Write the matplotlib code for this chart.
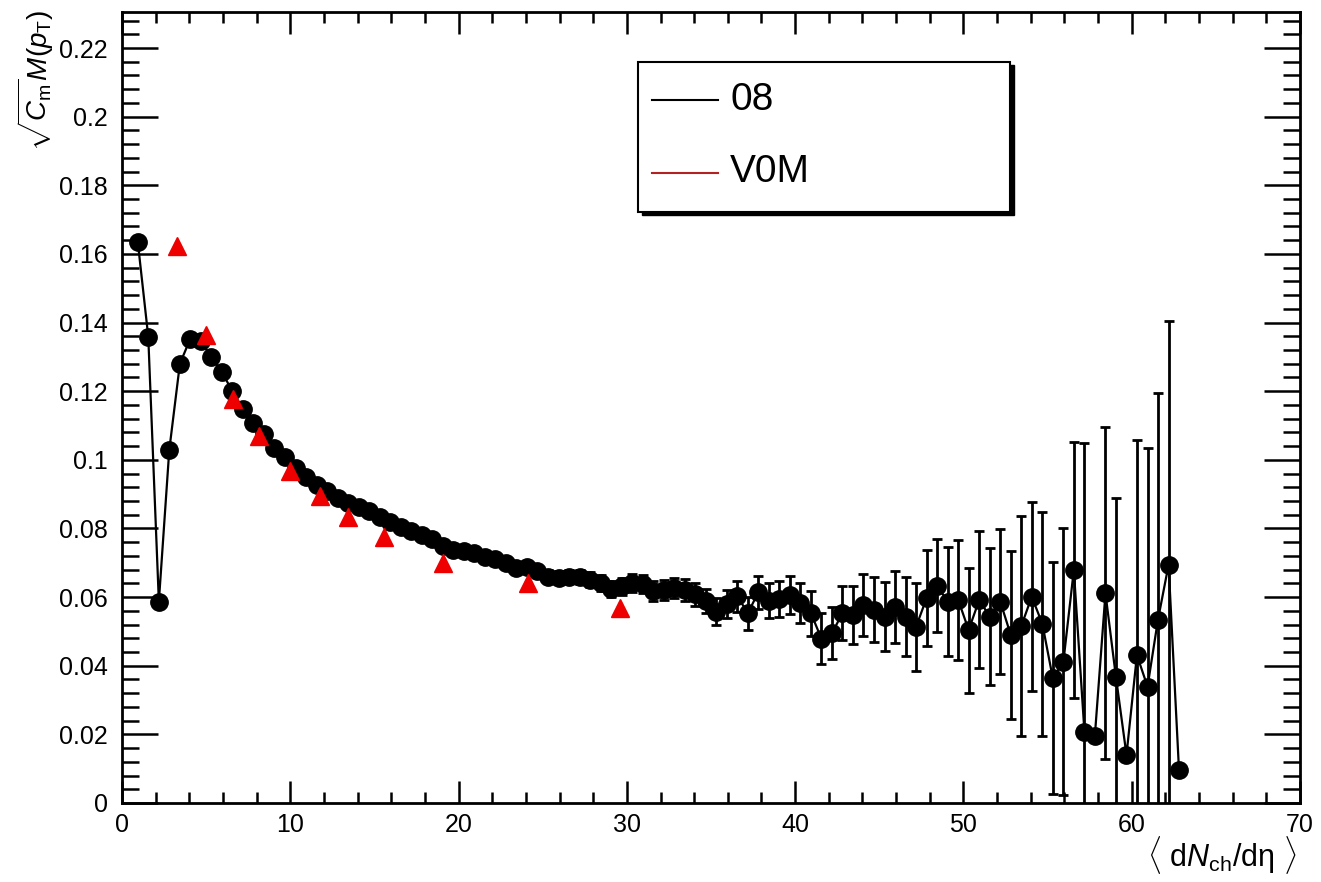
import matplotlib
matplotlib.use("Agg")
import matplotlib.pyplot as plt
from matplotlib.patches import Rectangle
from matplotlib.lines import Line2D
from matplotlib.ticker import MultipleLocator

plt.rcParams['font.family'] = ['Liberation Sans', 'DejaVu Sans']
plt.rcParams['mathtext.fontset'] = 'custom'
plt.rcParams['mathtext.rm'] = 'Liberation Sans'
plt.rcParams['mathtext.it'] = 'Liberation Sans:italic'
plt.rcParams['mathtext.bf'] = 'Liberation Sans:bold'

# "08" estimator, <dNch/deta> bins
x08 = [0.94, 1.56, 2.19, 2.81, 3.44, 4.06, 4.69, 5.31, 5.94, 6.56,
       7.19, 7.81, 8.44, 9.06, 9.69, 10.31, 10.94, 11.56, 12.19, 12.81,
       13.44, 14.06, 14.69, 15.31, 15.94, 16.56, 17.19, 17.81, 18.44, 19.06,
       19.69, 20.31, 20.94, 21.56, 22.19, 22.81, 23.44, 24.06, 24.69, 25.31,
       25.94, 26.56, 27.19, 27.81, 28.44, 29.06, 29.69, 30.31, 30.94, 31.56,
       32.19, 32.81, 33.44, 34.06, 34.69, 35.31, 35.94, 36.56, 37.19, 37.81,
       38.44, 39.06, 39.69, 40.31, 40.94, 41.56, 42.19, 42.81, 43.44, 44.06,
       44.69, 45.31, 45.94, 46.56, 47.19, 47.81, 48.44, 49.06, 49.69, 50.31,
       50.94, 51.56, 52.19, 52.81, 53.44, 54.06, 54.69, 55.31, 55.94, 56.56,
       57.19, 57.81, 58.44, 59.06, 59.69, 60.31, 60.94, 61.56, 62.19, 62.81]
y08 = [0.1634, 0.1359, 0.0587, 0.1029, 0.1280, 0.1353, 0.1345, 0.1300, 0.1255, 0.1200,
       0.1148, 0.1107, 0.1075, 0.1035, 0.1008, 0.0975, 0.0950, 0.0928, 0.0908, 0.0888,
       0.0875, 0.0862, 0.0850, 0.0832, 0.0818, 0.0805, 0.0792, 0.0780, 0.0768, 0.0750,
       0.0738, 0.0735, 0.0728, 0.0718, 0.0712, 0.0700, 0.0685, 0.0688, 0.0675, 0.0660,
       0.0657, 0.0660, 0.0658, 0.0650, 0.0640, 0.0623, 0.0632, 0.0641, 0.0638, 0.0618,
       0.0622, 0.0626, 0.0621, 0.0608, 0.0588, 0.0558, 0.0580, 0.0603, 0.0553, 0.0614,
       0.0590, 0.0594, 0.0606, 0.0582, 0.0553, 0.0479, 0.0495, 0.0553, 0.0548, 0.0577,
       0.0563, 0.0543, 0.0571, 0.0543, 0.0514, 0.0597, 0.0633, 0.0587, 0.0592, 0.0504,
       0.0592, 0.0543, 0.0587, 0.0490, 0.0516, 0.0601, 0.0522, 0.0364, 0.0412, 0.0679,
       0.0208, 0.0196, 0.0611, 0.0368, 0.0140, 0.0431, 0.0339, 0.0534, 0.0694, 0.0096]
e08 = [0.0008, 0.0008, 0.0006, 0.0007, 0.0007, 0.0006, 0.0006, 0.0006, 0.0006, 0.0006,
       0.0006, 0.0006, 0.0006, 0.0007, 0.0007, 0.0007, 0.0007, 0.0008, 0.0008, 0.0008,
       0.0009, 0.0009, 0.0009, 0.0010, 0.0010, 0.0010, 0.0011, 0.0011, 0.0012, 0.0012,
       0.0013, 0.0013, 0.0014, 0.0014, 0.0015, 0.0015, 0.0016, 0.0017, 0.0017, 0.0018,
       0.0019, 0.0020, 0.0021, 0.0022, 0.0023, 0.0024, 0.0025, 0.0026, 0.0027, 0.0028,
       0.0029, 0.0030, 0.0031, 0.0033, 0.0035, 0.0040, 0.0042, 0.0045, 0.0048, 0.0048,
       0.0050, 0.0052, 0.0055, 0.0058, 0.0065, 0.0075, 0.0075, 0.0078, 0.0085, 0.0090,
       0.0095, 0.0100, 0.0105, 0.0115, 0.0128, 0.0140, 0.0135, 0.0160, 0.0175, 0.0182,
       0.0200, 0.0200, 0.0210, 0.0245, 0.0320, 0.0276, 0.0326, 0.0338, 0.0390, 0.0372,
       0.0841, 0.0, 0.0484, 0.0520, 0.0, 0.0627, 0.0695, 0.0662, 0.0712, 0.0]

# V0M estimator
xv0m = [3.25, 4.99, 6.61, 8.16, 10.0, 11.77, 13.4, 15.55, 19.09, 24.14, 29.59]
yv0m = [0.1622, 0.1365, 0.1178, 0.1068, 0.0968, 0.0895, 0.0833, 0.0774, 0.0698, 0.0641, 0.0568]

yticks = [0, 0.02, 0.04, 0.06, 0.08, 0.1, 0.12, 0.14, 0.16, 0.18, 0.2, 0.22]
ytick_labels = ['0', '0.02', '0.04', '0.06', '0.08', '0.1', '0.12', '0.14',
                '0.16', '0.18', '0.2', '0.22']

W, H = 1321, 882
fig = plt.figure(figsize=(W / 100, H / 100), dpi=100)
ax = fig.add_axes([122 / W, 1 - 803 / H, 1178 / W, 791 / H])

ax.errorbar(x08, y08, yerr=e08, fmt='none', ecolor='black', elinewidth=2,
            capsize=3.5, capthick=2, zorder=2)
ax.plot(x08, y08, '-o', color='black', lw=1.6, ms=12.5, zorder=3)
ax.plot(xv0m, yv0m, '^', color='#ee0000', ms=13, ls='none', zorder=4)

ax.set_xlim(0, 70)
ax.set_ylim(0, 0.2305)
ax.set_yticks(yticks)
ax.set_yticklabels(ytick_labels)
ax.xaxis.set_major_locator(MultipleLocator(10))
ax.xaxis.set_minor_locator(MultipleLocator(2))
ax.yaxis.set_minor_locator(MultipleLocator(0.004))

for s in ax.spines.values():
    s.set_linewidth(2)
ax.tick_params(axis='both', which='both', direction='in', top=True, right=True,
               labelsize=18, width=1.8)
ax.tick_params(axis='x', which='major', length=16, pad=7)
ax.tick_params(axis='x', which='minor', length=8)
ax.tick_params(axis='y', which='major', length=26, pad=10)
ax.tick_params(axis='y', which='minor', length=12)

# axis titles, ROOT style (aligned to the axis ends)
fig.text(36 / W, 1 - 10 / H, r'$\sqrt{C_{\rm m}}M(p_{\rm T})$', rotation=90,
         ha='center', va='top', fontsize=20)
fig.text(1297 / W, 1 - 866 / H, r'$\langle$ d$N_{\rm ch}$/dη $\rangle$',
         ha='right', va='baseline', fontsize=22)

# legend box with shadow
lx0, lx1 = (638 - 122) / 1178, (1010 - 122) / 1178
ly0, ly1 = (803 - 212) / 791, (803 - 62) / 791
ax.add_patch(Rectangle((lx0 + 0.003, ly0 - 0.004), lx1 - lx0, ly1 - ly0,
                       transform=ax.transAxes, facecolor='black', edgecolor='black',
                       zorder=9, clip_on=False))
ax.add_patch(Rectangle((lx0, ly0), lx1 - lx0, ly1 - ly0, transform=ax.transAxes,
                       facecolor='white', edgecolor='black', lw=1.5, zorder=10,
                       clip_on=False))
ax.add_line(Line2D([(652 - 122) / 1178, (718 - 122) / 1178],
                   [(803 - 100) / 791] * 2, transform=ax.transAxes,
                   color='black', lw=1.5, zorder=11))
ax.add_line(Line2D([(652 - 122) / 1178, (718 - 122) / 1178],
                   [(803 - 173) / 791] * 2, transform=ax.transAxes,
                   color='#b22222', lw=1.5, zorder=11))
ax.text((730 - 122) / 1178, (803 - 100) / 791, '08', transform=ax.transAxes,
        fontsize=28, va='center', ha='left', zorder=11)
ax.text((730 - 122) / 1178, (803 - 172) / 791, 'V0M', transform=ax.transAxes,
        fontsize=28, va='center', ha='left', zorder=11)

fig.savefig('out.png', dpi=100)
